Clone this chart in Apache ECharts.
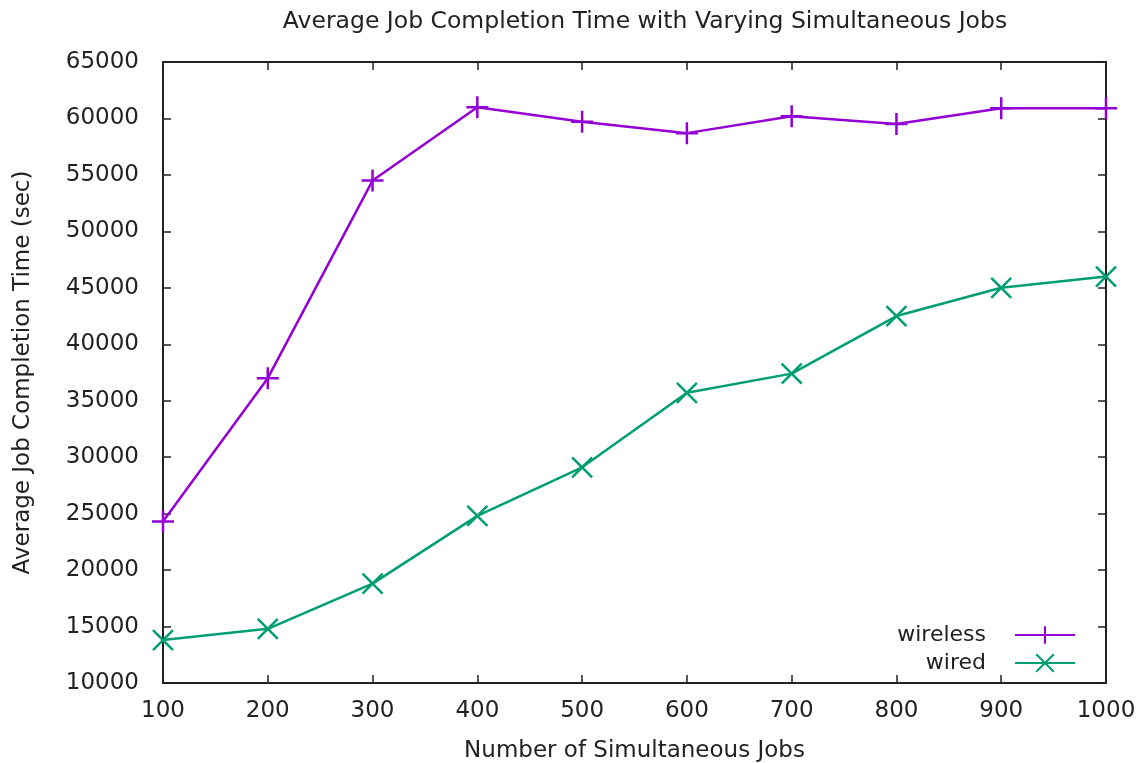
<!DOCTYPE html>
<html>
<head>
<meta charset="utf-8">
<script src="https://cdn.jsdelivr.net/npm/echarts@6/dist/echarts.min.js"></script>
<style>
  html, body { margin: 0; padding: 0; background: #fff; }
  #chart { width: 1147px; height: 763px; }
</style>
</head>
<body>
<div id="chart"></div>
<script>
// Number of simultaneous jobs
var jobs = [100, 200, 300, 400, 500, 600, 700, 800, 900, 1000];
// Average job completion time (sec)
var wireless = [24300, 37000, 54500, 61000, 59700, 58700, 60200, 59500, 60900, 60900];
var wired = [13800, 14800, 18800, 24800, 29100, 35700, 37400, 42500, 45000, 46000];

var FONT = 'DejaVu Sans';
var PLUS = 'path://M10,0L10,20M0,10L20,10';
var CROSS = 'path://M0,0L20,20M20,0L0,20';

function pairs(xs, ys) {
  return xs.map(function (x, i) { return [x, ys[i]]; });
}
function plain(v) { return String(v); }

var chart = echarts.init(document.getElementById('chart'), null, { renderer: 'canvas' });

var tickStyle = { show: true, inside: true, length: 8, lineStyle: { color: '#222', width: 1.5 } };
var lineAxis = { show: true, lineStyle: { color: '#222', width: 2 } };
var labelStyle = { fontFamily: FONT, fontSize: 23, color: '#222', formatter: plain };
var nameStyle = { fontFamily: FONT, fontSize: 23, color: '#222' };

chart.setOption({
  animation: false,
  backgroundColor: '#fff',
  title: {
    text: 'Average Job Completion Time with Varying Simultaneous Jobs',
    left: 640, top: 5, textAlign: 'center',
    textStyle: { fontFamily: FONT, fontSize: 23.5, fontWeight: 'normal', color: '#222' }
  },
  grid: { left: 163, right: 41, top: 62, bottom: 80, outerBoundsMode: 'none', containLabel: false },
  legend: {
    right: 66, bottom: 84, orient: 'vertical', align: 'right',
    itemWidth: 60, itemHeight: 22, itemGap: 6,
    textStyle: { fontFamily: FONT, fontSize: 22, color: '#222', padding: [0, 24, 0, 0] },
    data: ['wireless', 'wired']
  },
  xAxis: [{
    type: 'value', min: 100, max: 1000, interval: 100,
    axisLine: lineAxis, axisTick: tickStyle, splitLine: { show: false },
    axisLabel: Object.assign({ margin: 17 }, labelStyle),
    name: 'Number of Simultaneous Jobs', nameLocation: 'middle', nameGap: 57,
    nameTextStyle: nameStyle
  }, {
    type: 'value', position: 'top', min: 100, max: 1000, interval: 100,
    axisLine: lineAxis, axisTick: tickStyle, axisLabel: { show: false }, splitLine: { show: false }
  }],
  yAxis: [{
    type: 'value', min: 10000, max: 65000, interval: 5000,
    axisLine: lineAxis, axisTick: tickStyle, splitLine: { show: false },
    axisLabel: Object.assign({ margin: 24 }, labelStyle),
    name: 'Average Job Completion Time (sec)', nameLocation: 'middle', nameGap: 128,
    nameTextStyle: nameStyle
  }, {
    type: 'value', position: 'right', min: 10000, max: 65000, interval: 5000,
    axisLine: lineAxis, axisTick: tickStyle, axisLabel: { show: false }, splitLine: { show: false }
  }],
  series: [{
    name: 'wireless', type: 'line', data: pairs(jobs, wireless),
    symbol: PLUS, symbolSize: 22, showAllSymbol: true,
    lineStyle: { color: '#9400d3', width: 2.5 },
    itemStyle: { color: 'rgba(0,0,0,0)', borderColor: '#9400d3', borderWidth: 2.5 }
  }, {
    name: 'wired', type: 'line', data: pairs(jobs, wired),
    symbol: CROSS, symbolSize: 20, showAllSymbol: true,
    lineStyle: { color: '#009e73', width: 2.5 },
    itemStyle: { color: 'rgba(0,0,0,0)', borderColor: '#009e73', borderWidth: 2.5 }
  }]
});
</script>
</body>
</html>
